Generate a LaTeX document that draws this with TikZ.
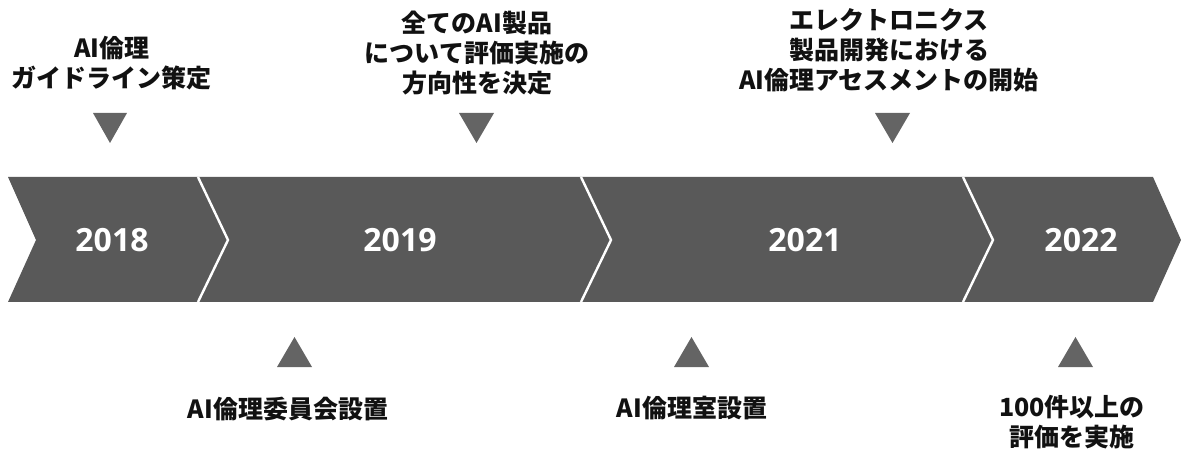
\documentclass[tikz,border=0pt]{standalone}
\usepackage{fontspec}
\newfontfamily\jpfont{Noto Sans CJK JP}
\newfontfamily\yearfont{Open Sans}
\definecolor{bandgray}{HTML}{595959}
\definecolor{markgray}{HTML}{646464}
\definecolor{inkblack}{HTML}{111111}
\tikzset{
  event/.style={font=\jpfont\bfseries\fontsize{25}{30}\selectfont, text=inkblack,
    align=center, inner sep=0pt},
  year/.style={font=\yearfont\bfseries\fontsize{32}{36}\selectfont, text=white, inner sep=0pt},
  marker/.style={fill=markgray, draw=none},
  divider/.style={draw=white, line width=2.4pt, line join=miter},
}
\begin{document}
\begin{tikzpicture}[x=1pt,y=-1pt]
\useasboundingbox (0,0) rectangle (1181,454);

% timeline band
\fill[bandgray] (8,177) -- (1153,177) -- (1181,240) -- (1153,302) -- (8,302) -- (36,240) -- cycle;
\draw[divider] (198,177) -- (228,240) -- (198,302);
\draw[divider] (581,177) -- (611,240) -- (581,302);
\draw[divider] (963,177) -- (993,240) -- (963,302);

% years
\node[year] (y2018) at (112,240) {2018};
\node[year] (y2019) at (400,240) {2019};
\node[year] (y2021) at (805,240) {2021};
\node[year] (y2022) at (1081,240) {2022};

% markers above the band
\fill[marker] (93,113) -- (127,113) -- (110,143) -- cycle;
\fill[marker] (459,113) -- (494,113) -- (476.5,143) -- cycle;
\fill[marker] (875,113) -- (910,113) -- (892.5,143) -- cycle;

% markers below the band
\fill[marker] (277,367) -- (312,367) -- (294.5,337) -- cycle;
\fill[marker] (674,367) -- (709,367) -- (691.5,337) -- cycle;
\fill[marker] (1058,367) -- (1093,367) -- (1075.5,337) -- cycle;

% events above
\node[event] (e1) at (112,63) {AI倫理\\ガイドライン策定};
\node[event] (e2) at (477,53) {全てのAI製品\\について評価実施の\\方向性を決定};
\node[event] (e3) at (889,50) {エレクトロニクス\\製品開発における\\AI倫理アセスメントの開始};

% events below
\node[event] (e4) at (288,409) {AI倫理委員会設置};
\node[event] (e5) at (692,408) {AI倫理室設置};
\node[event] (e6) at (1072,422) {100件以上の\\評価を実施};
\end{tikzpicture}
\end{document}
